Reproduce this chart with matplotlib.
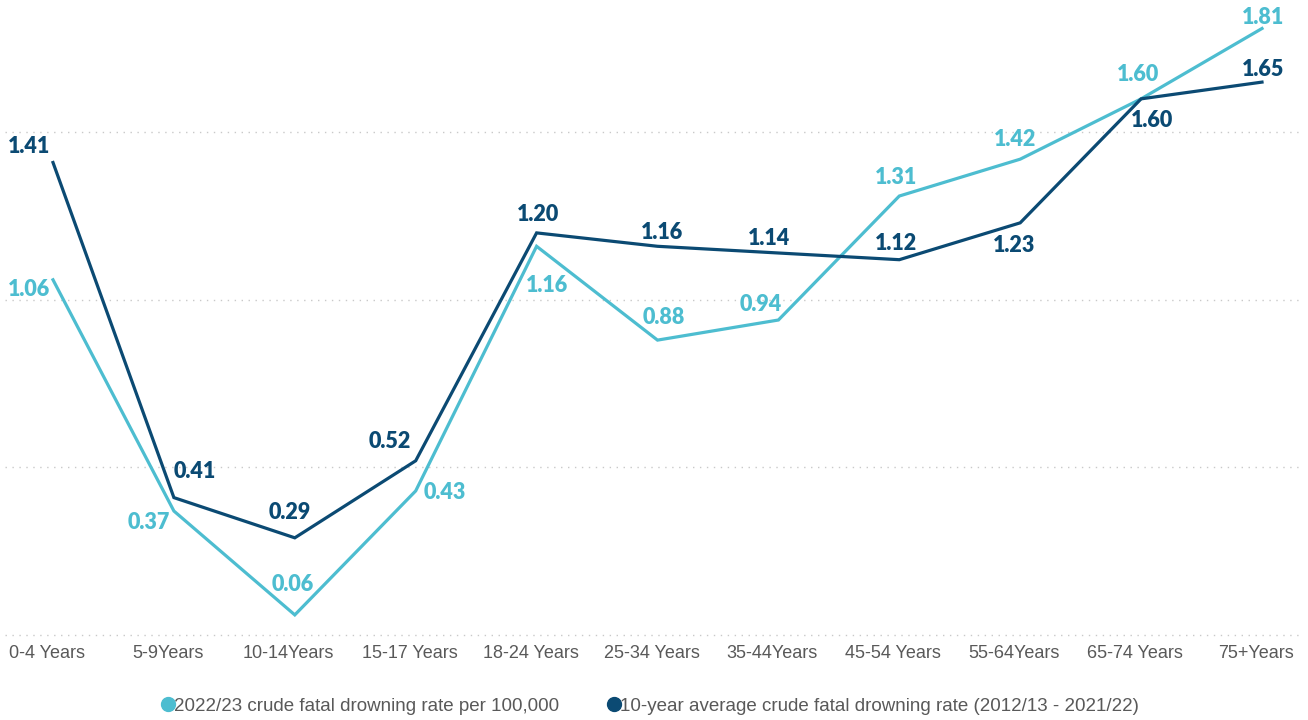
import matplotlib
matplotlib.use("Agg")
import matplotlib.pyplot as plt
from matplotlib.lines import Line2D

categories = ["0-4 Years", "5-9Years", "10-14Years", "15-17 Years", "18-24 Years",
              "25-34 Years", "35-44Years", "45-54 Years", "55-64Years", "65-74 Years", "75+Years"]
rate_2022 = [1.06, 0.37, 0.06, 0.43, 1.16, 0.88, 0.94, 1.31, 1.42, 1.60, 1.81]
rate_10yr = [1.41, 0.41, 0.29, 0.52, 1.20, 1.16, 1.14, 1.12, 1.23, 1.60, 1.65]
legend_labels = ["2022/23 crude fatal drowning rate per 100,000",
                 "10-year average crude fatal drowning rate (2012/13 - 2021/22)"]

LIGHT = "#4DBDD0"
DARK = "#0B4A73"

# label offsets in pixels (dx, dy; dy up)
off_2022 = [(-24, -10), (-25, -11), (-2, 30), (29, -2), (10, -39), (6, 23),
            (-18, 16), (-3, 19), (-5, 20), (-3, 24), (1, 11)]
off_10yr = [(-24, 16), (21, 26), (-5, 25), (-26, 19), (1, 18), (5, 14),
            (-9, 14), (-3, 16), (-6, -23), (11, -22), (1, 13)]

fig = plt.figure(figsize=(13.08, 7.2), dpi=100)
ax = fig.add_axes([0.0, 85 / 720, 1.0, 635 / 720])
x = list(range(len(categories)))
left = -53 / 120.9
right = (1308 - 53) / 120.9
ax.set_xlim(left, right)
ax.set_ylim(0, 1.895)

for gy in [0, 0.5, 1.0, 1.5]:
    ax.plot([left + 5 / 120.9, right - 6 / 120.9], [gy, gy], color="#c9c9c9",
            lw=1.0, linestyle=(0, (1, 4)), zorder=1, clip_on=False)

ax.plot(x, rate_2022, color=LIGHT, lw=2.3, zorder=3, solid_joinstyle="miter")
ax.plot(x, rate_10yr, color=DARK, lw=2.3, zorder=4, solid_joinstyle="miter")

lab_font = dict(family=["Lato", "DejaVu Sans"], fontsize=15.5, fontweight="heavy")
for xi, v, (dx, dy) in zip(x, rate_2022, off_2022):
    ax.annotate(f"{v:.2f}", (xi, v), xytext=(dx, dy), textcoords="offset pixels",
                ha="center", va="center", color=LIGHT, zorder=6, annotation_clip=False, **lab_font)
for xi, v, (dx, dy) in zip(x, rate_10yr, off_10yr):
    ax.annotate(f"{v:.2f}", (xi, v), xytext=(dx, dy), textcoords="offset pixels",
                ha="center", va="center", color=DARK, zorder=6, annotation_clip=False, **lab_font)

# category labels (drawn as text at each category position, slightly left of the point)
ax.set_xticks([])
ax.set_yticks([])
for xi, cat in zip(x, categories):
    ax.annotate(cat, (xi, 0), xytext=(-6, -18), textcoords="offset pixels",
                ha="center", va="center", color="#595959", annotation_clip=False,
                family=["Liberation Sans", "DejaVu Sans"], fontsize=13)

for s in ax.spines.values():
    s.set_visible(False)
ax.patch.set_alpha(0)

handles = [Line2D([], [], marker="o", linestyle="none", markersize=10, color=LIGHT),
           Line2D([], [], marker="o", linestyle="none", markersize=10, color=DARK)]
fig.legend(handles, legend_labels, loc="center", bbox_to_anchor=(648 / 1308, 1 - 706 / 720),
           ncol=2, frameon=False, handletextpad=-0.25, columnspacing=2.3, handlelength=1.2,
           prop={"family": ["Liberation Sans", "DejaVu Sans"], "size": 13.5},
           labelcolor="#595959")

fig.savefig("out.png", dpi=100)
